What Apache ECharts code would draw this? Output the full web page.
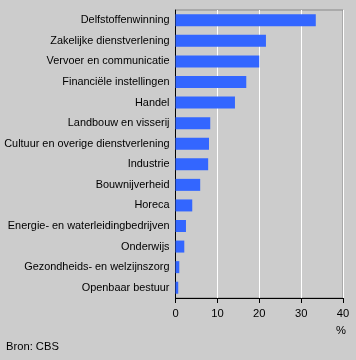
<!DOCTYPE html>
<html><head><meta charset="utf-8">
<script src="https://cdn.jsdelivr.net/npm/echarts@6/dist/echarts.min.js"></script>
<style>html,body{margin:0;padding:0;background:#cccccc;}#c{width:356px;height:360px;}</style>
</head><body><div id="c"></div>
<script>
var categories = ["Delfstoffenwinning","Zakelijke dienstverlening","Vervoer en communicatie","Financiële instellingen","Handel","Landbouw en visserij","Cultuur en overige dienstverlening","Industrie","Bouwnijverheid","Horeca","Energie- en waterleidingbedrijven","Onderwijs","Gezondheids- en welzijnszorg","Openbaar bestuur"];
var values = [33.5,21.6,20.0,16.9,14.2,8.3,8.0,7.8,5.9,4.0,2.5,2.1,0.9,0.65];
var xTicks = [0,10,20,30,40];
var font = "Liberation Sans, Arial, sans-serif";
var chart = echarts.init(document.getElementById('c'));
chart.setOption({
  backgroundColor:'#cccccc',
  animation:false,
  textStyle:{fontFamily:font},
  grid:{left:175.5,right:13,top:10,bottom:62,outerBoundsMode:'none',containLabel:false,show:true,borderColor:'#888888',borderWidth:1,backgroundColor:'transparent'},
  xAxis:{type:'value',min:xTicks[0],max:xTicks[xTicks.length-1],interval:10,
    axisLine:{show:true,lineStyle:{color:'#000',width:1}},
    axisTick:{show:true,length:5,lineStyle:{color:'#000'}},
    axisLabel:{color:'#000',fontSize:11.2,fontFamily:font,margin:10},
    splitLine:{show:true,lineStyle:{color:'#ffffff',width:1}}},
  yAxis:{type:'category',data:categories,inverse:true,
    axisLine:{show:true,lineStyle:{color:'#000',width:1}},
    axisTick:{show:false},
    axisLabel:{color:'#000',fontSize:10.9,fontFamily:font,margin:6}},
  series:[{type:'bar',data:values,barWidth:12,itemStyle:{color:'#3366ff'}}],
  graphic:[
    {type:'text',left:336,top:325,style:{text:'%',fill:'#000',font:'11.2px '+font}},
    {type:'text',left:6,top:341,style:{text:'Bron: CBS',fill:'#000',font:'11.2px '+font}}
  ]
});
</script></body></html>
